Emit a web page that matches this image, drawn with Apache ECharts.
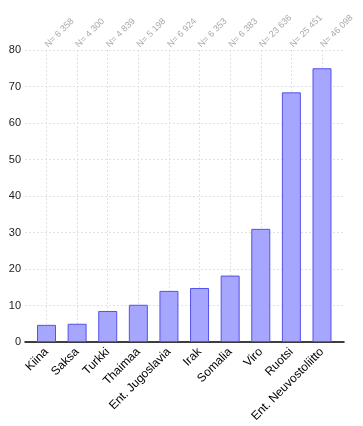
<!DOCTYPE html>
<html>
<head>
<meta charset="utf-8">
<script src="https://cdn.jsdelivr.net/npm/echarts@6/dist/echarts.min.js"></script>
<style>html,body{margin:0;padding:0;background:#fff;}#c{width:363px;height:426px;}</style>
</head>
<body>
<div id="c"></div>
<script>
var categories = ['Kiina','Saksa','Turkki','Thaimaa','Ent. Jugoslavia','Irak','Somalia','Viro','Ruotsi','Ent. Neuvostoliitto'];
var values = [4.7, 5.0, 8.5, 10.2, 14.0, 14.8, 18.2, 31.0, 68.4, 75.0];
var nLabels = ['N= 6 358','N= 4 300','N= 4 839','N= 5 198','N= 6 924','N= 6 353','N= 6 383','N= 23 636','N= 25 451','N= 46 098'];
var yMin = 0, yMax = 80, yStep = 10;

var chart = echarts.init(document.getElementById('c'), null, {renderer: 'canvas'});
var font = 'Liberation Sans, Arial, sans-serif';
var grid = {color: '#e2e2e2', type: [2, 2], width: 1};
chart.setOption({
  animation: false,
  backgroundColor: '#fff',
  grid: [
    {left: 25, right: 19, top: 50, bottom: 84},
    {left: 46.5, right: 41, top: 50, bottom: 84}
  ],
  xAxis: [
    {gridIndex: 0, type: 'value', min: 0, max: 1,
     axisLine: {show: true, lineStyle: {color: '#000', width: 1.5}},
     axisTick: {show: false}, axisLabel: {show: false}, splitLine: {show: false}},
    {gridIndex: 1, type: 'category', data: categories, boundaryGap: false,
     axisLine: {show: false}, axisTick: {show: false},
     axisLabel: {interval: 0, rotate: 45, fontSize: 12, color: '#000', fontFamily: font, margin: 8},
     splitLine: {show: true, interval: 0, lineStyle: grid}},
    {gridIndex: 1, type: 'category', data: nLabels, boundaryGap: false, position: 'top',
     axisLine: {show: false}, axisTick: {show: false},
     axisLabel: {interval: 0, rotate: -45, fontSize: 9, color: '#aaaaaa', fontFamily: font, margin: 4},
     splitLine: {show: false}}
  ],
  yAxis: [
    {gridIndex: 0, type: 'value', min: yMin, max: yMax, interval: yStep,
     axisLine: {show: false}, axisTick: {show: false},
     axisLabel: {fontSize: 11, color: '#222', fontFamily: font, margin: 4},
     splitLine: {show: true, lineStyle: grid}},
    {gridIndex: 1, type: 'value', min: yMin, max: yMax, show: false}
  ],
  series: [{
    type: 'bar', xAxisIndex: 1, yAxisIndex: 1, data: values, barWidth: 19,
    itemStyle: {color: '#a6a6ff', borderColor: '#5252ee', borderWidth: 1}
  }]
});
</script>
</body>
</html>
